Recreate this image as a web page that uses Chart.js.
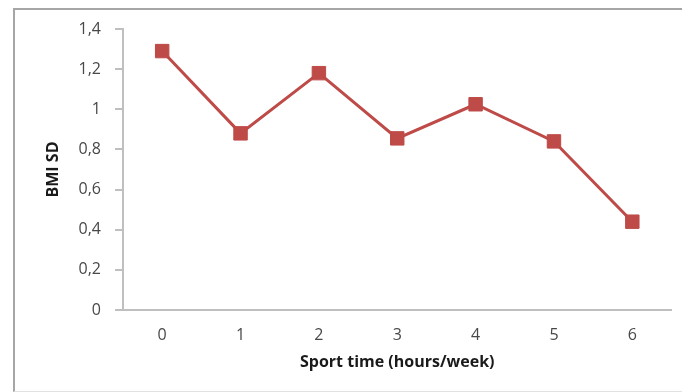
<!DOCTYPE html>
<html>
<head>
<meta charset="utf-8">
<script src="https://cdn.jsdelivr.net/npm/chart.js@4/dist/chart.umd.min.js"></script>
<style>
  html, body { margin: 0; padding: 0; background: #fff; }
  #wrap { position: relative; width: 682px; height: 392px; overflow: hidden; }
  #frame { position: absolute; left: 13px; top: 8px; width: 690px; height: 384px;
           border: 2px solid #a6a6a6; border-right: none; border-bottom: 1px solid #e2e2e2;
           box-sizing: border-box; }
  canvas { position: absolute; left: 0; top: 0; }
</style>
</head>
<body>
<div id="wrap">
  <div id="frame"></div>
  <canvas id="c" width="682" height="392"></canvas>
</div>
<script>
// Sport time per week vs. BMI standard deviation score
const hoursPerWeek = ['0', '1', '2', '3', '4', '5', '6'];
const bmiSd = [1.29, 0.88, 1.18, 0.855, 1.025, 0.84, 0.44];
const yTicks = [0, 0.2, 0.4, 0.6, 0.8, 1, 1.2, 1.4];

const lineRed = '#be4b48';
const axisGrey = '#bfbfbf';
const labelGrey = '#484848';

new Chart(document.getElementById('c'), {
  type: 'line',
  data: {
    labels: hoursPerWeek,
    datasets: [{
      data: bmiSd,
      borderColor: lineRed,
      backgroundColor: lineRed,
      borderWidth: 3,
      pointStyle: 'rect',
      pointRadius: 9.5,
      pointBorderWidth: 1,
      pointBorderColor: lineRed,
      pointBackgroundColor: lineRed,
      tension: 0
    }]
  },
  options: {
    responsive: false,
    animation: false,
    events: [],
    layout: { padding: { top: 29, right: 10, left: 0, bottom: 0 } },
    plugins: { legend: { display: false }, tooltip: { enabled: false } },
    scales: {
      x: {
        type: 'category',
        offset: true,
        grid: { display: true, drawOnChartArea: false, drawTicks: false },
        border: { color: axisGrey, width: 2 },
        ticks: { color: labelGrey, padding: 16, font: { family: 'Open Sans', size: 16 } },
        title: {
          display: true,
          text: 'Sport time (hours/week)',
          color: '#1a1a1a',
          font: { family: 'Open Sans', size: 16, weight: 'bold' },
          padding: { top: 0, bottom: 20 }
        },
        afterFit: (s) => { s.height = 82; }
      },
      y: {
        min: 0,
        max: 1.4,
        afterBuildTicks: (s) => { s.ticks = yTicks.map(v => ({ value: v })); },
        grid: { drawOnChartArea: false, drawTicks: true, tickLength: 8, color: axisGrey, lineWidth: 2 },
        border: { color: axisGrey, width: 2 },
        ticks: {
          color: labelGrey,
          padding: 14,
          font: { family: 'Open Sans', size: 16 },
          callback: (v) => String(Math.round(v * 10) / 10).replace('.', ',')
        },
        title: {
          display: true,
          text: 'BMI SD',
          color: '#1a1a1a',
          font: { family: 'Open Sans', size: 16, weight: 'bold' },
          padding: { top: 44, bottom: 0 }
        },
        afterFit: (s) => { s.width = 123; }
      }
    }
  }
});
</script>
</body>
</html>
